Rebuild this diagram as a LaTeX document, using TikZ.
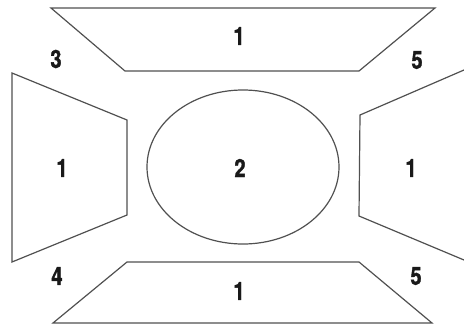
\documentclass[tikz,border=0pt]{standalone}
\usepackage{fontspec}
\setmainfont{TeX Gyre Heros}
\newfontfamily\zonefont[FakeStretch=0.8,FakeBold=1.5]{TeX Gyre Heros}
\usetikzlibrary{positioning}
\definecolor{plangray}{RGB}{80,80,80}
\definecolor{plantext}{RGB}{25,25,25}

\begin{document}
\begin{tikzpicture}[x=1pt, y=-1pt,
    wall/.style={draw=plangray, line width=1.2pt, line join=miter},
    zonelabel/.style={font=\fontsize{25}{28}\zonefont\bfseries, text=plantext, inner sep=0pt}]

\useasboundingbox (0,0) rectangle (464,327);

% === outer bands ===
\draw[wall] (51,8) -- (435,8) -- (359,71) -- (125,71) -- cycle;
\draw[wall] (12,73) -- (127,120) -- (127,215) -- (12,262) -- cycle;
\draw[wall] (464,70) -- (360,115) -- (359,216) -- (464,260);
\draw[wall] (127,262) -- (359,262) -- (432,323) -- (53,323) -- cycle;

% === centre ===
\draw[wall] (243,167) ellipse (96 and 77);

% === labels ===
\node[zonelabel] (top) at (239,36) {1};
\node[zonelabel] (left) at (62,168) {1};
\node[zonelabel] (centre) at (240,168) {2};
\node[zonelabel] (right) at (411,168) {1};
\node[zonelabel] (bottom) at (239,291) {1};
\node[zonelabel] (cornerTL) at (56,59) {3};
\node[zonelabel] (cornerTR) at (417,60) {5};
\node[zonelabel] (cornerBL) at (57,276) {4};
\node[zonelabel] (cornerBR) at (416,276) {5};

\end{tikzpicture}
\end{document}
